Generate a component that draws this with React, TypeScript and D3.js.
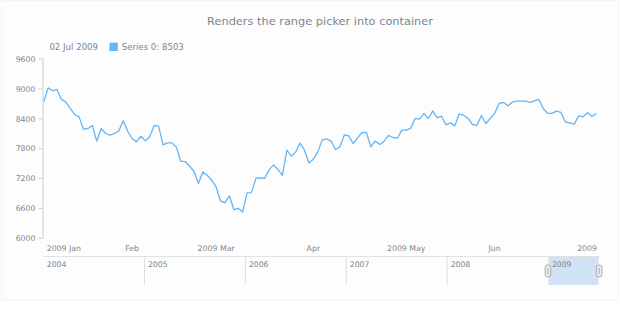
import React from 'react';
import * as d3 from 'd3';

const title = 'Renders the range picker into container';
const legendDate = '02 Jul 2009';
const seriesName = 'Series 0';

// Daily values (trading days, 02 Jan 2009 .. 02 Jul 2009)
const values: number[] = [
  8740, 9021, 8961, 8989, 8788, 8740, 8607, 8486, 8438, 8190,
  8205, 8265, 7950, 8205, 8104, 8070, 8104, 8157, 8358, 8150,
  8004, 7936, 8050, 7956, 8044, 8265, 8251, 7876, 7916, 7916,
  7835, 7548, 7541, 7447, 7347, 7099, 7333, 7266, 7166, 7031,
  6750, 6710, 6850, 6577, 6603, 6529, 6911, 6918, 7206, 7212,
  7206, 7373, 7473, 7380, 7266, 7769, 7648, 7735, 7910, 7769,
  7513, 7588, 7735, 7976, 7996, 7950, 7783, 7835, 8076, 8056,
  7903, 8016, 8124, 8124, 7835, 7956, 7883, 7950, 8064, 8024,
  8010, 8171, 8171, 8205, 8406, 8392, 8507, 8406, 8559, 8419,
  8452, 8278, 8318, 8258, 8499, 8472, 8406, 8285, 8265, 8466,
  8305, 8406, 8507, 8707, 8727, 8660, 8734, 8754, 8754, 8754,
  8727, 8761, 8788, 8607, 8507, 8507, 8553, 8526, 8338, 8318,
  8291, 8459, 8439, 8520, 8446, 8503,
];

const yTicks = [6000, 6600, 7200, 7800, 8400, 9000, 9600];
const monthLabels = ['2009 Jan', 'Feb', '2009 Mar', 'Apr', '2009 May', 'Jun', '2009'];
const monthStartIndex = [0, 20, 39, 61, 82, 102, 124];
const scrollerYears = [2004, 2005, 2006, 2007, 2008, 2009];

const FONT = 'DejaVu Sans, Verdana, sans-serif';
const TEXT = '#7c868e';
const AXIS = '#cfcfcf';
const LINE = '#64b5f6';

export default function App() {
  const x = d3.scaleLinear().domain([0, values.length - 1]).range([43.7, 596.3]);
  const y = d3.scaleLinear().domain([6000, 9600]).range([238.3, 59]);
  const line = d3
    .line<number>()
    .x((_, i) => x(i))
    .y((d) => y(d));

  const sStart = new Date(2004, 0, 1);
  const sEnd = new Date(2009, 6, 2);
  const sx = d3.scaleTime().domain([sStart, sEnd]).range([43.3, 598.7]);
  const selStart = sx(new Date(2009, 0, 1));
  const selEnd = sx(sEnd);
  const sTop = 256.5;
  const sBottom = 285;

  const handle = (cx: number, key: string) => (
    <g key={key}>
      <rect x={cx - 2.8} y={265} width={5.6} height={12} rx={2.6} fill="#ececec" stroke="#9a9a9a" strokeWidth={0.8} />
      <line x1={cx} x2={cx} y1={267.8} y2={274.2} stroke="#9a9a9a" strokeWidth={0.8} />
    </g>
  );

  return (
    <svg
      width={620}
      height={319}
      style={{ position: 'absolute', left: 0, top: 0 }}
      fontFamily={FONT}
    >
      <rect x={0} y={0} width={620} height={319} fill="#ffffff" />
      <rect x={1.5} y={0.5} width={617} height={300} fill="#fdfdfd" stroke="#f4f4f4" strokeWidth={1} />
      <text x={320} y={25} textAnchor="middle" fontSize={11.35} fill={TEXT}>
        {title}
      </text>

      {/* legend */}
      <text x={49.4} y={49.8} fontSize={8.6} fill={TEXT}>
        {legendDate}
      </text>
      <rect x={109.5} y={42.7} width={8.3} height={8.3} fill={LINE} />
      <text x={121.7} y={49.8} fontSize={8.6} fill={TEXT}>
        {`${seriesName}: ${values[values.length - 1]}`}
      </text>

      {/* y axis */}
      <line x1={43} x2={43} y1={y(9600)} y2={y(6000)} stroke={AXIS} strokeWidth={1} />
      {yTicks.map((t) => (
        <g key={t}>
          <line x1={38.5} x2={43} y1={y(t)} y2={y(t)} stroke={AXIS} strokeWidth={1} />
          <text x={35.5} y={y(t) + 2.8} textAnchor="end" fontSize={7.8} fill={TEXT}>
            {t}
          </text>
        </g>
      ))}

      {/* x axis labels */}
      {monthLabels.map((lab, i) => {
        const idx = monthStartIndex[i];
        const first = i === 0;
        const last = i === monthLabels.length - 1;
        const px = first ? x(idx) + 3 : last ? x(values.length - 1) + 0.7 : x(idx);
        return (
          <text
            key={lab + i}
            x={px}
            y={250.5}
            textAnchor={first ? 'start' : last ? 'end' : 'middle'}
            fontSize={7.8}
            fill={TEXT}
          >
            {lab}
          </text>
        );
      })}

      {/* series */}
      <path d={line(values) || ''} fill="none" stroke={LINE} strokeWidth={1.3} strokeLinejoin="round" />

      {/* scroller */}
      <rect x={selStart} y={sTop} width={selEnd - selStart} height={sBottom - sTop} fill="#d1e2f5" />
      <line x1={43} x2={600} y1={sTop} y2={sTop} stroke="#e2e2e2" strokeWidth={1} />
      {scrollerYears.map((yr) => {
        const xx = sx(new Date(yr, 0, 1));
        return (
          <g key={yr}>
            {yr > 2004 && yr < 2009 && (
              <line x1={xx} x2={xx} y1={sTop} y2={sBottom} stroke="#dedede" strokeWidth={1} />
            )}
            <text x={xx + 3.5} y={267} fontSize={7.7} fill={TEXT}>
              {yr}
            </text>
          </g>
        );
      })}
      {handle(selStart - 0.5, 'hl')}
      {handle(selEnd + 0.5, 'hr')}
    </svg>
  );
}
